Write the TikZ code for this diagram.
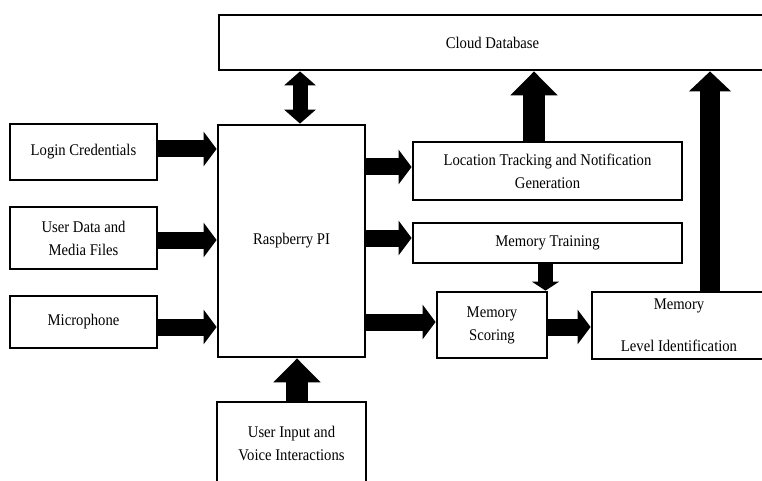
\documentclass[tikz,border=0pt]{standalone}
\usepackage{fontspec}
\setmainfont{Liberation Serif}[FakeStretch=0.9]
\usetikzlibrary{arrows.meta}
\begin{document}
\begin{tikzpicture}[x=1pt,y=-1pt,
  box/.style={draw, line width=2.8pt, inner sep=0pt, align=center,
    font=\fontsize{16.3}{23}\selectfont},
  fatA/.style={line width=17pt, -{Triangle[width=34pt,length=13pt]}},
  fatB/.style={line width=22pt, -{Triangle[width=46pt,length=24pt]}},
  fatC/.style={line width=20pt, -{Triangle[width=41pt,length=20pt]}},
  fatD/.style={line width=15pt, -{Triangle[width=27pt,length=9pt]}},
  fatE/.style={line width=15pt, {Triangle[width=31pt,length=14pt]}-{Triangle[width=31pt,length=14pt]}}]
\useasboundingbox (0,0) rectangle (762,481);

\node[box, minimum width=547pt, minimum height=55pt] (cloud) at (492.5,42.5) {Cloud Database};
\node[box, minimum width=147pt, minimum height=232pt] (rpi) at (291.5,241) {Raspberry PI};
\node[box, minimum width=147pt, minimum height=56pt] (login) at (83.5,152) {Login Credentials};
\node[box, minimum width=147pt, minimum height=62pt] (udata) at (83.5,238) {User Data and\\Media Files};
\node[box, minimum width=147pt, minimum height=52pt] (mic) at (83.5,322) {Microphone};
\node[box, minimum width=269pt, minimum height=58pt] (loc) at (547.5,171) {Location Tracking and Notification\\Generation};
\node[box, minimum width=269pt, minimum height=40pt] (train) at (547.5,243) {Memory Training};
\node[box, minimum width=110pt, minimum height=66pt] (score) at (492,325) {Memory\\Scoring};
\node[box, minimum width=174pt, minimum height=67pt] (level) at (679,325.5) {Memory\\[19pt]Level Identification};
\node[box, minimum width=149pt, minimum height=82pt] (uin) at (291.5,443) {User Input and\\Voice Interactions};

% inputs to Raspberry PI
\draw[fatA] ([yshift=3pt]login.east) -- ([yshift=3pt]login.east -| rpi.west);
\draw[fatA] ([yshift=-2pt]udata.east) -- ([yshift=-2pt]udata.east -| rpi.west);
\draw[fatA] ([yshift=-5pt]mic.east) -- ([yshift=-5pt]mic.east -| rpi.west);
% Raspberry PI outputs
\draw[fatA] ([yshift=4pt]loc.west -| rpi.east) -- ([yshift=4pt]loc.west);
\draw[fatA] ([yshift=5pt]train.west -| rpi.east) -- ([yshift=5pt]train.west);
\draw[fatA] ([yshift=3pt]score.west -| rpi.east) -- ([yshift=3pt]score.west);
\draw[fatA] ([yshift=-2pt]score.east) -- ([yshift=-2pt]score.east -| level.west);
% vertical
\draw[fatE] ([xshift=8.5pt]rpi.north) -- ([xshift=8.5pt]rpi.north |- cloud.south);
\draw[fatB] ([xshift=-13.5pt]loc.north) -- ([xshift=-13.5pt]loc.north |- cloud.south);
\draw[fatC] ([xshift=31pt]level.north) -- ([xshift=31pt]level.north |- cloud.south);
\draw[fatD] ([xshift=-2pt]train.south) -- ([xshift=-2pt]train.south |- score.north);
\draw[fatB] ([xshift=5.5pt]uin.north) -- ([xshift=5.5pt]uin.north |- rpi.south);
\end{tikzpicture}
\end{document}
